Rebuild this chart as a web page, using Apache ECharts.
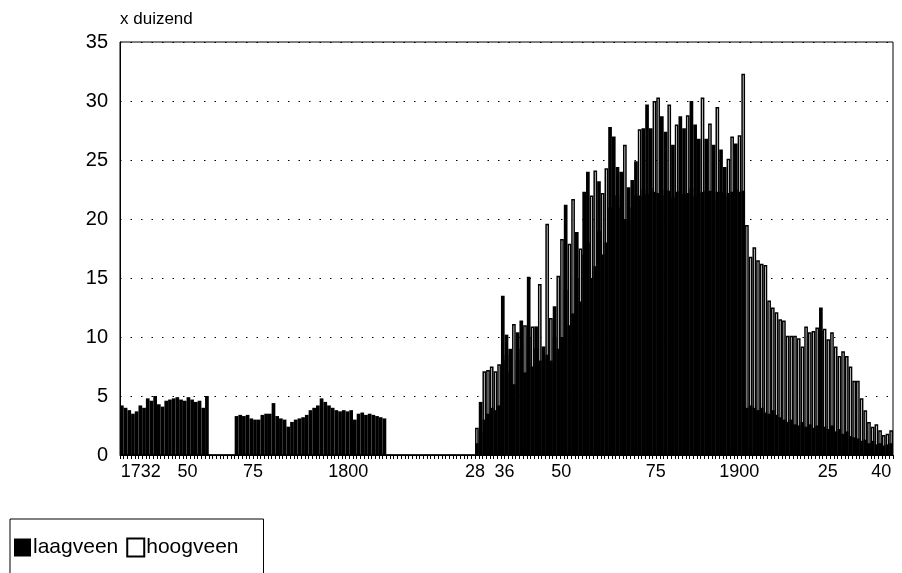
<!DOCTYPE html>
<html><head><meta charset="utf-8">
<script src="https://cdn.jsdelivr.net/npm/echarts@6/dist/echarts.min.js"></script>
<style>html,body{margin:0;padding:0;background:#fff}#c{width:902px;height:573px}</style>
</head><body><div id="c"></div>
<script>
// ---- data ----
const firstYear = 1732, lastYear = 1940;
const years = [];
for (let y = firstYear; y <= lastYear; y++) years.push(String(y));

// x duizend, one value per year 1732..1940
const laagveen = [
  // 1732-1755
  4.2,4.0,3.8,3.5,3.7,4.2,4.0,4.8,4.6,5.0,4.3,4.1,4.6,4.7,4.8,4.9,4.7,4.6,4.9,4.7,4.5,4.6,4.0,5.0,
  // 1756-1762
  0,0,0,0,0,0,0,
  // 1763-1803
  3.3,3.4,3.3,3.4,3.1,3.0,3.0,3.4,3.5,3.5,4.4,3.3,3.1,3.0,2.4,2.8,3.0,3.1,3.2,3.4,
  3.8,4.0,4.2,4.8,4.5,4.2,4.0,3.8,3.7,3.8,3.7,3.8,3.0,3.5,3.6,3.4,3.5,3.4,3.3,3.2,3.1,
  // 1804-1827
  0,0,0,0,0,0,0,0,0,0,0,0,0,0,0,0,0,0,0,0,0,0,0,0,
  // 1828-1900
  1.0,4.5,3.0,3.5,4.0,3.8,4.2,13.5,10.2,9.0,
  6.0,10.4,11.4,7.0,15.1,7.5,10.9,8.0,9.2,8.5,
  8.0,12.6,9.0,10.0,21.2,11.0,12.0,18.9,13.0,22.3,
  24.0,15.0,16.0,23.2,17.0,18.0,27.8,27.0,24.4,24.0,
  20.0,22.7,23.3,24.9,22.0,27.7,29.7,27.7,22.3,22.2,
  28.7,27.4,22.4,26.3,22.3,28.7,27.7,22.2,30.0,28.0,
  26.8,22.3,26.8,22.4,26.3,22.3,25.9,24.4,22.2,22.3,
  26.4,22.3,22.4,
  // 1901-1940
  4.0,4.2,4.0,3.8,4.0,3.6,3.5,3.8,3.4,3.2,
  3.0,2.8,3.0,2.6,2.5,2.8,2.4,2.6,2.3,2.5,
  12.5,2.4,2.2,2.5,2.0,2.2,1.8,2.0,1.6,1.5,
  1.4,1.2,1.3,1.0,1.2,0.9,1.0,0.8,0.9,1.0
];

const hoogveen = [
  // 1732-1827
  0,0,0,0,0,0,0,0,0,0,0,0,0,0,0,0,0,0,0,0,0,0,0,0,
  0,0,0,0,0,0,0,0,0,0,0,0,0,0,0,0,0,0,0,0,0,0,0,0,
  0,0,0,0,0,0,0,0,0,0,0,0,0,0,0,0,0,0,0,0,0,0,0,0,
  0,0,0,0,0,0,0,0,0,0,0,0,0,0,0,0,0,0,0,0,0,0,0,0,
  // 1828-1900
  2.3,2.0,7.1,7.2,7.5,7.1,7.7,8.0,8.5,7.0,
  11.1,8.0,9.0,11.0,10.0,10.9,9.0,14.5,8.0,19.6,
  11.6,10.0,15.2,18.3,14.0,17.9,21.7,15.0,17.5,17.0,
  18.0,22.0,24.1,19.0,22.2,24.3,21.0,22.0,22.0,21.0,
  26.3,20.0,21.0,22.0,27.6,22.5,22.1,22.6,30.0,30.3,
  22.0,22.5,29.7,21.8,28.0,22.4,22.1,28.8,22.6,21.9,
  22.2,30.3,22.4,28.1,21.7,29.5,22.3,21.9,25.1,27.0,
  22.5,27.1,32.3,
  // 1901-1940
  19.5,16.8,17.6,16.5,16.2,16.1,13.1,12.5,12.1,11.5,
  11.4,10.1,10.1,10.1,9.9,9.2,10.9,10.4,10.5,10.8,
  10.5,10.7,9.8,10.4,9.2,8.4,8.8,8.4,7.5,6.3,
  6.3,4.8,3.8,2.8,2.4,2.6,2.1,1.7,1.8,2.1
];

const tickYears = ['1732','1750','1775','1800','1828','1836','1850','1875','1900','1925','1940'];
const tickTexts = ['1732','50','75','1800','28','36','50','75','1900','25','40'];
const seriesNames = ['laagveen', 'hoogveen'];
const yName = 'x duizend';

// ---- styling (layout only) ----
const FONT = '"Liberation Sans", Arial, Helvetica, sans-serif';
const labelShift = [19, -1, -28, -25, -2, -2, 3, 5, -4, -8, -10];
const rich = {};
tickTexts.forEach((t, i) => {
  const s = labelShift[i];
  rich['t' + i] = {
    fontSize: 18, color: '#000', fontFamily: FONT,
    padding: s >= 0 ? [0, 0, 0, 2 * s] : [0, -2 * s, 0, 0]
  };
});

const chart = echarts.init(document.getElementById('c'), null, {renderer: 'canvas'});
chart.setOption({
  animation: false,
  backgroundColor: '#fff',
  grid: {left: 120, right: 9, top: 42, bottom: 118, show: true, borderColor: '#000', borderWidth: 1},
  legend: {
    left: 10, top: 519, orient: 'horizontal',
    itemWidth: 17, itemHeight: 18, itemGap: 8,
    padding: [18, 25, 30, 4],
    borderColor: '#000', borderWidth: 1, borderRadius: 0,
    textStyle: {fontSize: 21, color: '#000', fontFamily: FONT, padding: [0, 0, 0, -3]},
    data: [
      {name: seriesNames[0], icon: 'rect'},
      {name: seriesNames[1], icon: 'rect'}
    ]
  },
  xAxis: {
    type: 'category',
    data: years,
    boundaryGap: true,
    axisLine: {show: true, lineStyle: {color: '#000', width: 1}},
    axisTick: {show: true, interval: 0, length: 4, lineStyle: {color: '#000', width: 1}},
    axisLabel: {
      interval: (idx, val) => tickYears.indexOf(val) >= 0,
      formatter: (val) => {
        const k = tickYears.indexOf(val);
        return k < 0 ? '' : '{t' + k + '|' + tickTexts[k] + '}';
      },
      rich: rich,
      margin: 8, color: '#000', fontSize: 18, fontFamily: FONT
    },
    splitLine: {show: false}
  },
  yAxis: {
    type: 'value', min: 0, max: 35, interval: 5,
    name: yName, nameLocation: 'end', nameGap: 14,
    nameTextStyle: {align: 'left', fontSize: 17, color: '#000', fontFamily: FONT},
    axisLine: {show: true, lineStyle: {color: '#000', width: 1}},
    axisTick: {show: false},
    axisLabel: {margin: 12, color: '#000', fontSize: 20, fontFamily: FONT},
    splitLine: {show: true, lineStyle: {color: '#000', width: 1, type: [1.5, 9]}}
  },
  series: [
    {
      name: seriesNames[1], type: 'bar', data: hoogveen,
      barGap: '-100%', barCategoryGap: '0%',
      itemStyle: {color: '#fff', borderColor: '#000', borderWidth: 1.5}
    },
    {
      name: seriesNames[0], type: 'bar', data: laagveen,
      barGap: '-100%', barCategoryGap: '0%',
      itemStyle: {color: '#000'}
    }
  ]
});
</script>
</body></html>
